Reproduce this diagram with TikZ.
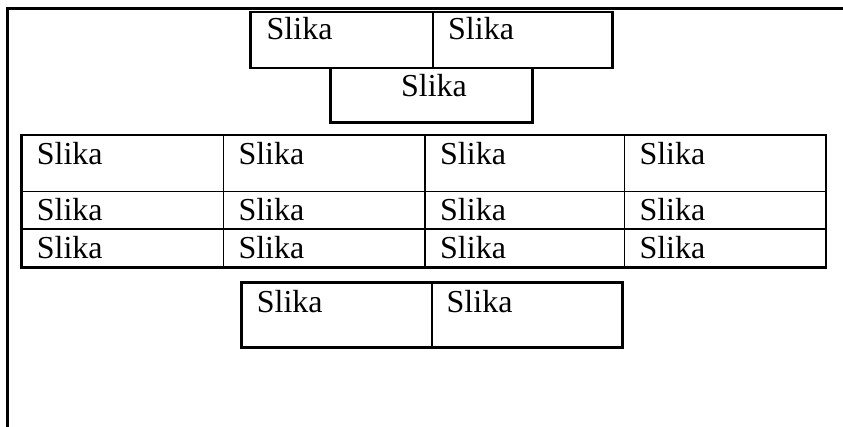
\documentclass[tikz,border=0pt]{standalone}
\usepackage{fontspec}
\setmainfont{Liberation Serif}
\usepackage{tikz}
\usetikzlibrary{calc}

\tikzset{
  frame/.style={line width=3pt},
  cellbox/.style={line width=2.5pt},
  divider/.style={line width=1.6pt},
  slika/.style={anchor=base west, inner sep=0pt, font=\fontsize{32}{38}\selectfont}
}

\begin{document}
\begin{tikzpicture}[x=1pt, y=-1pt]

        \useasboundingbox (0,0) rectangle (843,427);

         % Outer frame (only top and left edges show)
         \draw[frame] (843,9) -- (7,9) -- (7,427);

         % Top pair of boxes
         \draw[cellbox] (250.7,12) rectangle (612.7,68);
         \draw[divider] (432.7,12) -- (432.7,68);
         \node[slika] (topA) at (266.5,40) {Slika};
         \node[slika] (topB) at (448,40) {Slika};

         % Single box below them
         \draw[cellbox] (330.7,68) rectangle (532.7,122.7);
         \node[slika, anchor=base] (middle) at (434,96.7) {Slika};

         % Table of four columns and three rows
         \draw[cellbox] (21.7,135) rectangle (826,267.3);
         \foreach \x in {223.3,425,624.3}
           \draw[divider] (\x,135) -- (\x,267.3);
         \foreach \y in {191.7,229.3}
           \draw[divider] (21.7,\y) -- (826,\y);
         \foreach \x [count=\c] in {21.7,223.3,425,624.3}
           \foreach \b [count=\r] in {165,220.7,258.3}
             \node[slika] (cell\r\c) at (\x+15,\b) {Slika};

         % Bottom pair of boxes
         \draw[cellbox] (241.7,282.3) rectangle (622.7,347.7);
         \draw[divider] (431.7,282.3) -- (431.7,347.7);
         \node[slika] (botA) at (256.7,312.7) {Slika};
         \node[slika] (botB) at (446.5,312.7) {Slika};

    \end{tikzpicture}
\end{document}
